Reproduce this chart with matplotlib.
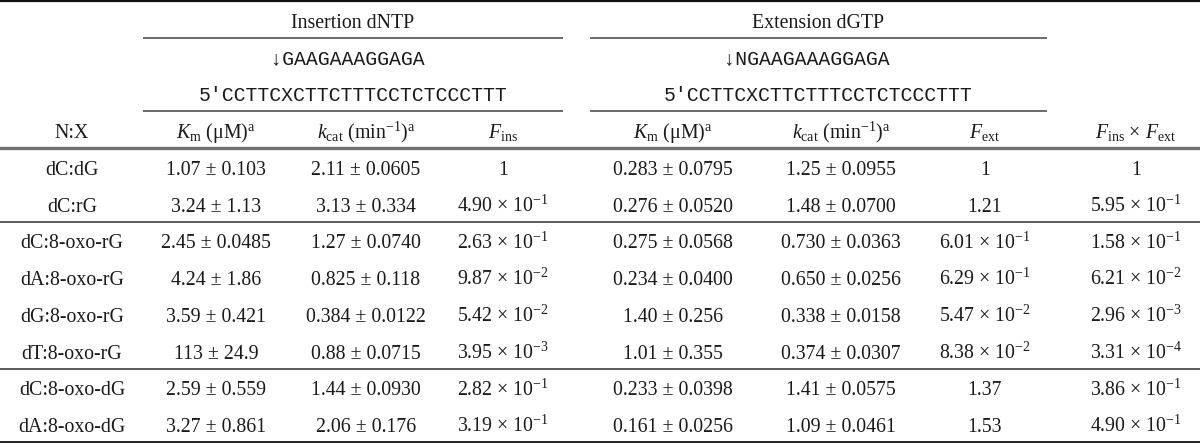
import matplotlib
matplotlib.use("Agg")
import matplotlib.pyplot as plt
from matplotlib import font_manager

plt.rcParams['font.family'] = ['Liberation Serif', 'DejaVu Serif']
plt.rcParams['mathtext.fontset'] = 'custom'
plt.rcParams['mathtext.rm'] = 'Liberation Serif'
plt.rcParams['mathtext.it'] = 'Liberation Serif:italic'
plt.rcParams['mathtext.bf'] = 'Liberation Serif:bold'

### table data
pairs = ['dC:dG', 'dC:rG', 'dC:8-oxo-rG', 'dA:8-oxo-rG', 'dG:8-oxo-rG',
         'dT:8-oxo-rG', 'dC:8-oxo-dG', 'dA:8-oxo-dG']
km_ins = ['1.07 ± 0.103', '3.24 ± 1.13', '2.45 ± 0.0485', '4.24 ± 1.86',
          '3.59 ± 0.421', '113 ± 24.9', '2.59 ± 0.559', '3.27 ± 0.861']
kcat_ins = ['2.11 ± 0.0605', '3.13 ± 0.334', '1.27 ± 0.0740', '0.825 ± 0.118',
            '0.384 ± 0.0122', '0.88 ± 0.0715', '1.44 ± 0.0930', '2.06 ± 0.176']
f_ins = ['1', '4.90e-1', '2.63e-1', '9.87e-2', '5.42e-2', '3.95e-3', '2.82e-1', '3.19e-1']
km_ext = ['0.283 ± 0.0795', '0.276 ± 0.0520', '0.275 ± 0.0568', '0.234 ± 0.0400',
          '1.40 ± 0.256', '1.01 ± 0.355', '0.233 ± 0.0398', '0.161 ± 0.0256']
kcat_ext = ['1.25 ± 0.0955', '1.48 ± 0.0700', '0.730 ± 0.0363', '0.650 ± 0.0256',
            '0.338 ± 0.0158', '0.374 ± 0.0307', '1.41 ± 0.0575', '1.09 ± 0.0461']
f_ext = ['1', '1.21', '6.01e-1', '6.29e-1', '5.47e-2', '8.38e-2', '1.37', '1.53']
f_tot = ['1', '5.95e-1', '1.58e-1', '6.21e-2', '2.96e-3', '3.31e-4', '3.86e-1', '4.90e-1']

groups = ['Insertion dNTP', 'Extension dGTP']
template = "5'CCTTCXCTTCTTTCCTCTCCCTTT"
primers = ['↓GAAGAAAGGAGA', '↓NGAAGAAAGGAGA']
col_heads = ['N:X', r'$K_{\rm m}$ (μM)$^{\rm a}$', r'$k_{\rm cat}$ (min$^{-1}$)$^{\rm a}$',
             r'$F_{\rm ins}$', r'$K_{\rm m}$ (μM)$^{\rm a}$',
             r'$k_{\rm cat}$ (min$^{-1}$)$^{\rm a}$', r'$F_{\rm ext}$',
             r'$F_{\rm ins}$ × $F_{\rm ext}$']

### layout (pixels)
W, H = 1200, 443
col_x = [72, 216, 366, 503, 673, 841, 985, 1136]
group_span = [(143, 563), (590, 1047)]
top = 1.0
row_h = 36.75
fs = 14.3
ink = '#1a1a1a'

installed = {f.name for f in font_manager.fontManager.ttflist}
mono = [f for f in ['Liberation Mono', 'Courier New', 'Nimbus Mono PS', 'FreeMono']
        if f in installed] + ['DejaVu Sans Mono']
mono_fs = 14.2 if mono[0] != 'DejaVu Sans Mono' else 14.6


def fmt(s):
    if 'e' in s:
        m, e = s.split('e')
        return '%s × 10$^{%d}$' % (m, int(e))
    return s


def yb(i):
    # baseline of row i
    return top + row_h * (i + 0.5) + 8.5


def yl(i):
    return top + row_h * i


fig = plt.figure(figsize=(W / 100, H / 100), dpi=100)
ax = fig.add_axes([0, 0, 1, 1])
ax.set_xlim(0, W)
ax.set_ylim(H, 0)
ax.axis('off')

# group headers, sequences
for g, (x0, x1) in enumerate(group_span):
    xm = (x0 + x1) / 2
    ax.text(xm, yb(0), groups[g], ha='center', va='baseline', fontsize=fs, color=ink)
    pad_left = 7 - (len(primers[g]) - 12)
    line = ' ' * pad_left + primers[g]
    line = line + ' ' * (len(template) - len(line))
    ax.text(xm, yb(1), line, ha='center', va='baseline', fontsize=mono_fs, color=ink,
            family=mono)
    ax.text(xm, yb(2), template, ha='center', va='baseline', fontsize=mono_fs, color=ink,
            family=mono)
    for k in (1, 3):
        ax.plot([x0, x1], [yl(k), yl(k)], color='#505050', lw=1.2, solid_capstyle='butt')

# column heads
for x, h in zip(col_x, col_heads):
    ax.text(x, yb(3), h, ha='center', va='baseline', fontsize=fs, color=ink)

# body
cols = [pairs, km_ins, kcat_ins, f_ins, km_ext, kcat_ext, f_ext, f_tot]
for r in range(len(pairs)):
    for x, col in zip(col_x, cols):
        ax.text(x, yb(4 + r), fmt(col[r]), ha='center', va='baseline', fontsize=fs, color=ink)

# rules
ax.plot([0, W], [top, top], color='#111111', lw=1.6)
ax.plot([0, W], [yl(4), yl(4)], color='#707070', lw=2.4)
for k in (6, 10):
    ax.plot([0, W], [yl(k), yl(k)], color='#404040', lw=1.2)
ax.plot([0, W], [yl(12), yl(12)], color='#222222', lw=1.4)

fig.savefig('out.png', dpi=100)
